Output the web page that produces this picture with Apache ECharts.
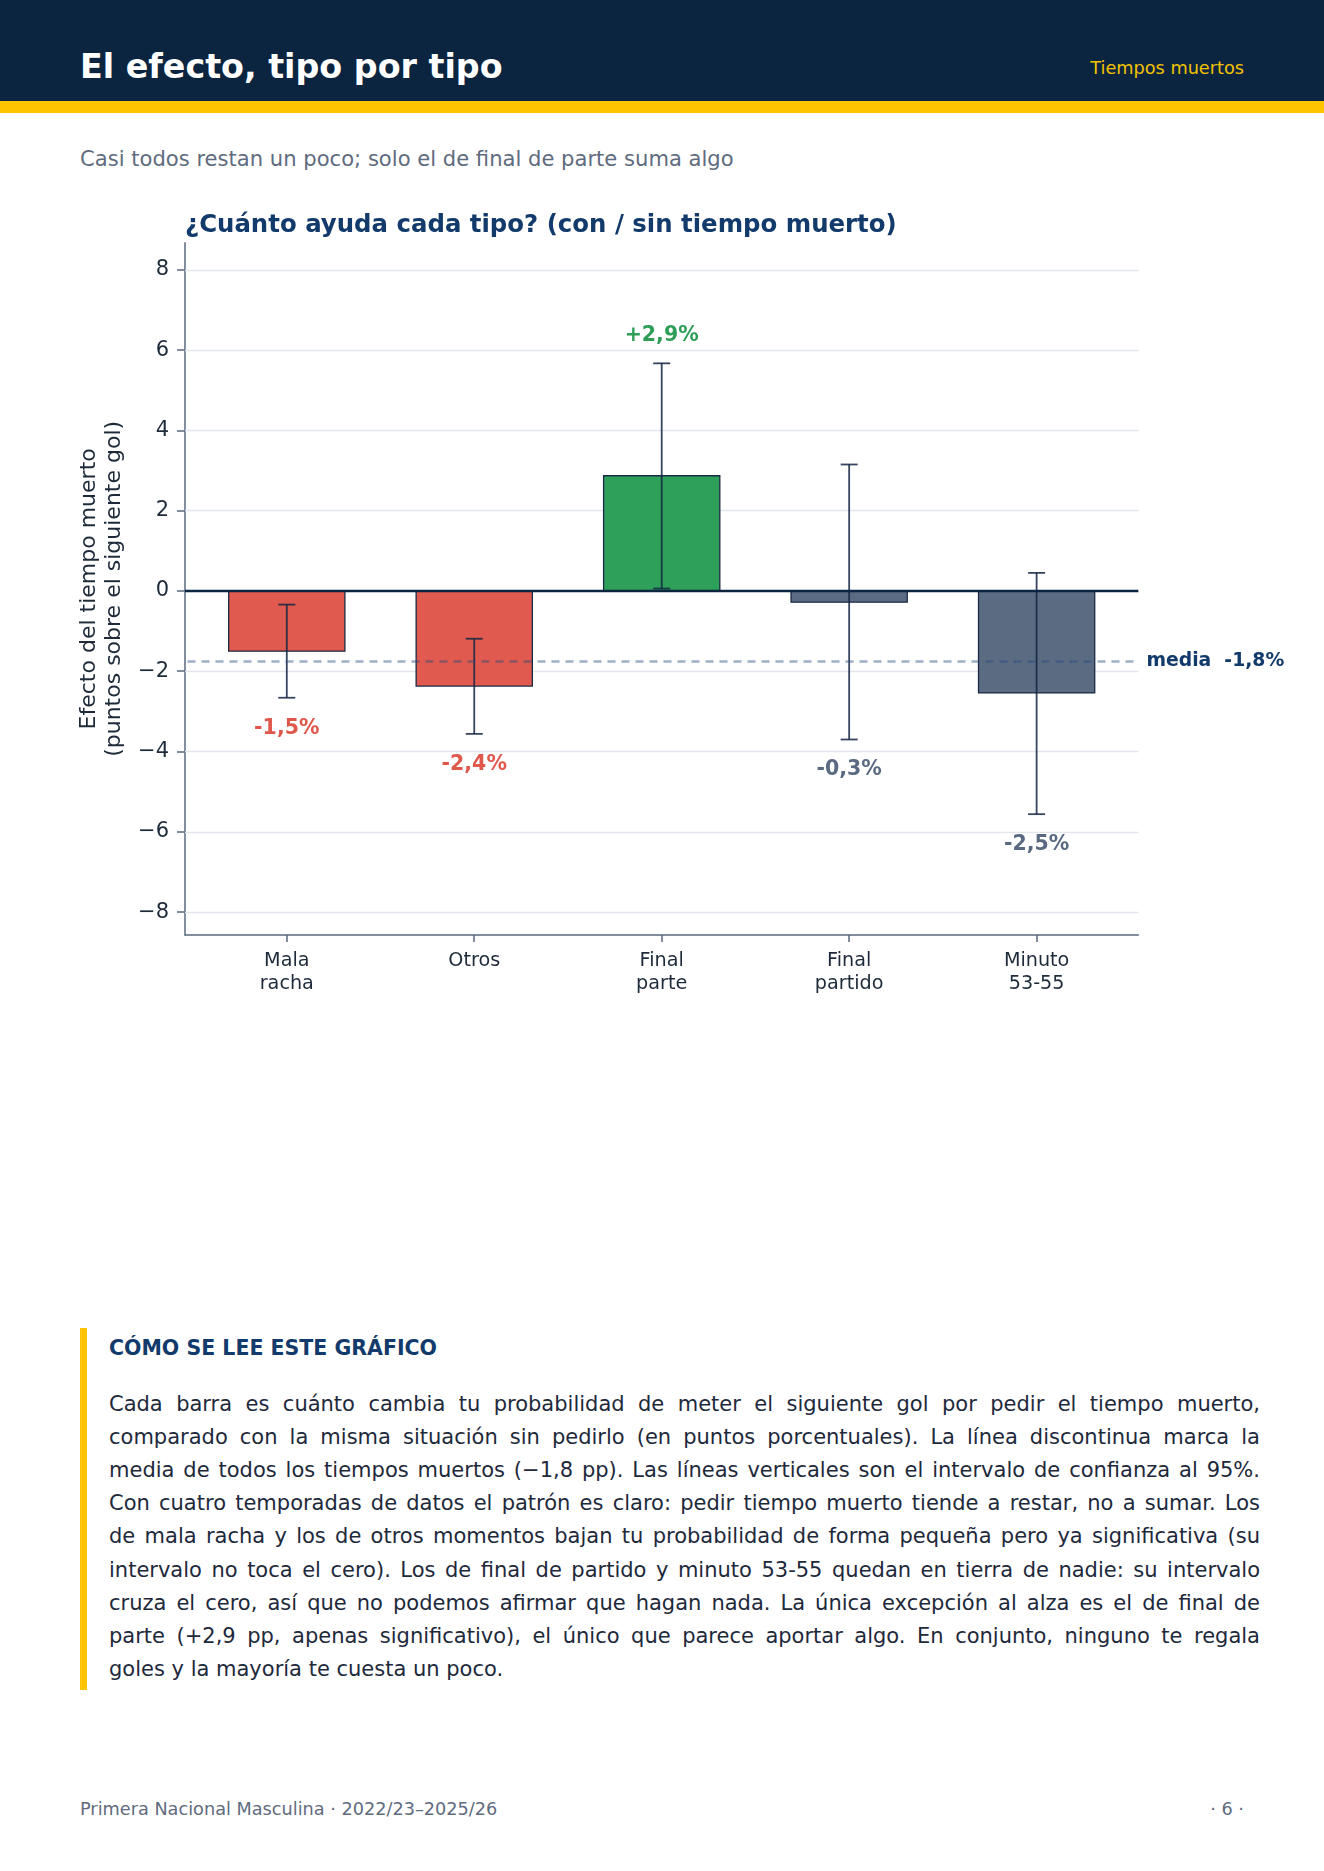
<!DOCTYPE html>
<html>
<head>
<meta charset="utf-8">
<script src="https://cdn.jsdelivr.net/npm/echarts@6/dist/echarts.min.js"></script>
<style>
  body { margin: 0; width: 1324px; height: 1871px; position: relative; background: #fff; font-family: 'DejaVu Sans', sans-serif; overflow: hidden; }
  .abs { position: absolute; white-space: nowrap; }
  #head { left: 0; top: 0; width: 1324px; height: 101px; background: #0b2540; }
  #band { left: 0; top: 101px; width: 1324px; height: 12px; background: #ffc400; }
  #title { left: 80px; top: 47px; line-height: 40px; font-size: 33.3px; font-weight: bold; color: #fff; }
  #tag { right: 80px; top: 56px; line-height: 24px; font-size: 17.7px; color: #f2c200; }
  #sub { left: 80px; top: 146px; line-height: 26px; font-size: 21.1px; color: #5f6b7e; }
  #chart { left: 0; top: 170px; width: 1324px; height: 880px; }
  #noteBar { left: 80px; top: 1328px; width: 7px; height: 362px; background: #ffc400; }
  #noteHead { left: 109px; top: 1335px; line-height: 26px; font-size: 20.5px; font-weight: bold; color: #123a6b; }
  #noteBody { left: 109px; top: 1387.5px; width: 1151px; font-size: 21px; line-height: 33.2px; color: #1e293b; }
  #noteBody div { text-align: justify; text-align-last: justify; white-space: nowrap; }
  #noteBody div.last { text-align-last: left; }
  #foot { left: 80px; top: 1797px; line-height: 24px; font-size: 17.7px; color: #5f6b7e; }
  #page { right: 80px; top: 1797px; line-height: 24px; font-size: 17.7px; color: #5f6b7e; }
</style>
</head>
<body>
<div class="abs" id="head"></div>
<div class="abs" id="band"></div>
<div class="abs" id="title">El efecto, tipo por tipo</div>
<div class="abs" id="tag">Tiempos muertos</div>
<div class="abs" id="sub">Casi todos restan un poco; solo el de final de parte suma algo</div>
<div class="abs" id="chart"></div>
<div class="abs" id="noteBar"></div>
<div class="abs" id="noteHead">CÓMO SE LEE ESTE GRÁFICO</div>
<div class="abs" id="noteBody">
  <div>Cada barra es cuánto cambia tu probabilidad de meter el siguiente gol por pedir el tiempo muerto,</div>
  <div>comparado con la misma situación sin pedirlo (en puntos porcentuales). La línea discontinua marca la</div>
  <div>media de todos los tiempos muertos (−1,8 pp). Las líneas verticales son el intervalo de confianza al 95%.</div>
  <div>Con cuatro temporadas de datos el patrón es claro: pedir tiempo muerto tiende a restar, no a sumar. Los</div>
  <div>de mala racha y los de otros momentos bajan tu probabilidad de forma pequeña pero ya significativa (su</div>
  <div>intervalo no toca el cero). Los de final de partido y minuto 53-55 quedan en tierra de nadie: su intervalo</div>
  <div>cruza el cero, así que no podemos afirmar que hagan nada. La única excepción al alza es el de final de</div>
  <div>parte (+2,9 pp, apenas significativo), el único que parece aportar algo. En conjunto, ninguno te regala</div>
  <div class="last">goles y la mayoría te cuesta un poco.</div>
</div>
<div class="abs" id="foot">Primera Nacional Masculina · 2022/23–2025/26</div>
<div class="abs" id="page">· 6 ·</div>

<script>
// datos
const categories = ['Mala\nracha', 'Otros', 'Final\nparte', 'Final\npartido', 'Minuto\n53-55'];
const effects = [-1.50, -2.37, 2.87, -0.28, -2.54];
const ciLow = [-2.66, -3.56, 0.06, -3.70, -5.56];
const ciHigh = [-0.34, -1.19, 5.67, 3.15, 0.45];
const yTicks = [-8, -6, -4, -2, 0, 2, 4, 6, 8];
const xTicks = [0, 1, 2, 3, 4];
const meanEffect = -1.76;

const FONT = 'DejaVu Sans';
const barWidth = 0.62;
const capHalf = 8.5;

const fills = { pos: '#2ea05a', neg: '#e05a4f', ns: '#5b6b82' };
const textColors = { pos: '#2e9e57', neg: '#e0574c', ns: '#5a6a82' };

function group(i) {
  if (ciLow[i] > 0) return 'pos';
  if (ciHigh[i] < 0) return 'neg';
  return 'ns';
}
const fmt = v => (v > 0 ? '+' : '') + v.toFixed(1).replace('.', ',') + '%';

const barData = effects.map((v, i) => [i, v, ciLow[i], ciHigh[i]]);

let chart = echarts.init(document.getElementById('chart'));

let option = {
  animation: false,
  title: {
    text: '¿Cuánto ayuda cada tipo? (con / sin tiempo muerto)',
    left: 185, top: 43.5, padding: 0,
    textStyle: { fontFamily: FONT, fontSize: 24.4, fontWeight: 'bold', color: '#123a6b' }
  },
  grid: { left: 185, top: 72.7, width: 953.4, height: 692.3, outerBoundsMode: 'none' },
  xAxis: {
    type: 'value', min: -0.543, max: 4.543,
    axisLine: { onZero: false, lineStyle: { color: '#5a6a80', width: 1.5 } },
    axisTick: { customValues: xTicks, length: 7, lineStyle: { color: '#5a6a80', width: 1.5 } },
    axisLabel: {
      customValues: xTicks,
      formatter: v => categories[Math.round(v)],
      fontFamily: FONT, fontSize: 19.2, lineHeight: 23, color: '#1e2a3a', margin: 14.5
    },
    splitLine: { show: false }
  },
  yAxis: {
    type: 'value', min: -8.57, max: 8.675,
    name: 'Efecto del tiempo muerto\n(puntos sobre el siguiente gol)',
    nameLocation: 'middle', nameRotate: 90, nameGap: 57,
    nameTextStyle: { fontFamily: FONT, fontSize: 22, lineHeight: 25, color: '#1e2a3a' },
    axisLine: { show: true, onZero: false, lineStyle: { color: '#5a6a80', width: 1.5 } },
    axisTick: { show: true, customValues: yTicks, length: 8, lineStyle: { color: '#5a6a80', width: 1.5 } },
    axisLabel: {
      customValues: yTicks,
      formatter: v => (v < 0 ? '\u2212' : '') + Math.abs(v),
      fontFamily: FONT, fontSize: 21, color: '#1e2a3a', margin: 16,
      padding: [5, 0, 0, 0]
    },
    splitLine: { show: false }
  },
  series: [
    {
      // rejilla
      type: 'line', data: [], z: 1, silent: true,
      markLine: {
        z: 1, silent: true, symbol: ['none', 'none'], label: { show: false },
        lineStyle: { color: '#e3e7ed', width: 1.3, type: 'solid' },
        data: yTicks.filter(t => t !== 0).map(t => ({ yAxis: t }))
      }
    },
    {
      // barras
      type: 'custom', z: 2, data: barData,
      renderItem: function (params, api) {
        const i = params.dataIndex;
        const x = api.value(0), v = api.value(1);
        const a = api.coord([x - barWidth / 2, 0]);
        const b = api.coord([x + barWidth / 2, v]);
        return {
          type: 'rect',
          shape: { x: a[0], y: Math.min(a[1], b[1]), width: b[0] - a[0], height: Math.abs(b[1] - a[1]) },
          style: { fill: fills[group(i)], stroke: '#1b2a44', lineWidth: 1.3 }
        };
      }
    },
    {
      // intervalos de confianza y etiquetas
      type: 'custom', z: 4, data: barData,
      renderItem: function (params, api) {
        const i = params.dataIndex;
        const x = api.value(0), v = api.value(1), lo = api.value(2), hi = api.value(3);
        const pLo = api.coord([x, lo]);
        const pHi = api.coord([x, hi]);
        const ls = { stroke: 'rgba(20,38,66,0.85)', lineWidth: 1.8 };
        const ty = v > 0 ? pHi[1] - 27.5 : pLo[1] + 30.5;
        return {
          type: 'group',
          children: [
            { type: 'line', shape: { x1: pLo[0], y1: pLo[1], x2: pHi[0], y2: pHi[1] }, style: ls },
            { type: 'line', shape: { x1: pLo[0] - capHalf, y1: pLo[1], x2: pLo[0] + capHalf, y2: pLo[1] }, style: ls },
            { type: 'line', shape: { x1: pHi[0] - capHalf, y1: pHi[1], x2: pHi[0] + capHalf, y2: pHi[1] }, style: ls },
            {
              type: 'text', x: pLo[0], y: ty,
              style: {
                text: fmt(v), fill: textColors[group(i)],
                fontFamily: FONT, fontSize: 20.5, fontWeight: 'bold',
                align: 'center', verticalAlign: 'middle',
                backgroundColor: '#fff', padding: [1, 5]
              }
            }
          ]
        };
      }
    },
    {
      // linea cero y media
      type: 'line', data: [], z: 5, silent: true,
      markLine: {
        z: 5, silent: true, symbol: ['none', 'none'],
        data: [
          { yAxis: 0, lineStyle: { color: '#0b2540', width: 2.4, type: 'solid' }, label: { show: false } },
          {
            yAxis: meanEffect,
            lineStyle: { color: 'rgba(40,75,125,0.45)', width: 2.5, type: [8, 6], dashOffset: -2.5 },
            label: {
              show: true, position: 'end', distance: 8,
              formatter: 'media  ' + fmt(meanEffect),
              fontFamily: FONT, fontSize: 18.8, fontWeight: 'bold', color: '#123a6b'
            }
          }
        ]
      }
    }
  ]
};

chart.setOption(option);
</script>
</body>
</html>
